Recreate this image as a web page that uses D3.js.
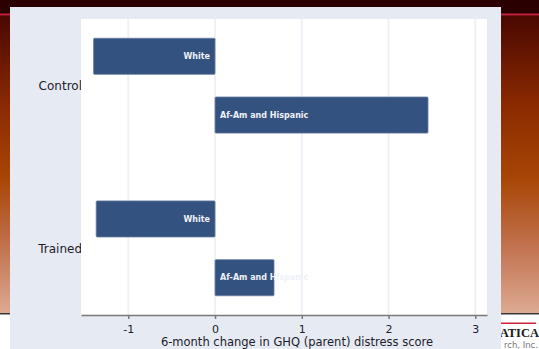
<!DOCTYPE html>
<html>
<head>
<meta charset="utf-8">
<script src="https://cdn.jsdelivr.net/npm/d3@7"></script>
<style>
  html, body { margin: 0; padding: 0; background: #fff; }
  svg { display: block; font-family: "DejaVu Sans", Verdana, sans-serif; }
</style>
</head>
<body>
<svg id="chart" width="539" height="349"></svg>
<script>
// groups, bar categories and the values
const groups = ["Control", "Trained"];
const races = ["White", "Af-Am and Hispanic"];
const controlValues = [-1.40, 2.455];
const trainedValues = [-1.37, 0.68];
const xTicks = [-1, 0, 1, 2, 3];
const xTitle = "6-month change in GHQ (parent) distress score";

const rows = [];
groups.forEach((g, gi) => {
  const vals = gi === 0 ? controlValues : trainedValues;
  races.forEach((r, ri) => rows.push({ group: g, race: r, value: vals[ri] }));
});

const svg = d3.select("#chart");
const W = 539, H = 349;

// --- slide background behind the chart ---
const defs = svg.append("defs");
const grad = defs.append("linearGradient")
  .attr("id", "slideBg")
  .attr("x1", 0).attr("y1", 0).attr("x2", 0).attr("y2", 1);
[[0, "#4a0800"], [0.3, "#8a2a00"], [0.55, "#a84606"], [0.78, "#c27350"], [1, "#dcaa92"]]
  .forEach(([o, c]) => grad.append("stop").attr("offset", o).attr("stop-color", c));

svg.append("rect").attr("width", W).attr("height", 16).attr("fill", "#2a0000");
svg.append("rect").attr("y", 16).attr("width", W).attr("height", 297).attr("fill", "url(#slideBg)");
svg.append("rect").attr("y", 13.5).attr("width", W).attr("height", 2).attr("fill", "#c8203a");
svg.append("rect").attr("y", 313).attr("width", W).attr("height", 1.5).attr("fill", "#3a3a3a");

// logo bits at bottom right (only the part the chart leaves visible)
svg.append("rect").attr("x", 490).attr("y", 322.5).attr("width", 46).attr("height", 1.5).attr("fill", "#d0203a");
svg.append("text")
  .attr("x", 539).attr("y", 337)
  .attr("text-anchor", "end")
  .style("font-family", "'Liberation Serif', serif")
  .style("font-weight", "bold")
  .style("font-size", "12.5px")
  .attr("fill", "#1a1a1a")
  .text("ATICA");
svg.append("text")
  .attr("x", 538).attr("y", 348)
  .attr("text-anchor", "end")
  .style("font-size", "8.5px")
  .attr("fill", "#777")
  .text("rch, Inc.");

// --- chart panel ---
const panel = { left: 10, top: 7, right: 501, bottom: 349 };
const plot = { left: 81, top: 19, right: 487, bottom: 315 };

svg.append("rect")
  .attr("x", panel.left).attr("y", panel.top)
  .attr("width", panel.right - panel.left)
  .attr("height", panel.bottom - panel.top)
  .attr("fill", "#e6eaf3");

const x = d3.scaleLinear().domain([-1.545, 3.135]).range([plot.left, plot.right]);

const yGroup = d3.scaleBand()
  .domain(groups)
  .range([plot.top, plot.bottom])
  .paddingInner(0.2)
  .paddingOuter(0.01);

const yRace = d3.scaleBand()
  .domain(races)
  .range([0, yGroup.bandwidth()])
  .paddingInner(0.385)
  .paddingOuter(0.3);

// group labels (drawn before the plot area so it trims them a little)
svg.append("g")
  .selectAll("text")
  .data(groups)
  .join("text")
  .attr("x", plot.left + 1)
  .attr("y", (d) => yGroup(d) + yGroup.bandwidth() / 2)
  .attr("dy", "0.35em")
  .attr("text-anchor", "end")
  .style("font-size", "12px")
  .attr("fill", "#1c1c2a")
  .text((d) => d);

svg.append("rect")
  .attr("x", plot.left).attr("y", plot.top)
  .attr("width", plot.right - plot.left)
  .attr("height", plot.bottom - plot.top)
  .attr("fill", "#ffffff");

// vertical grid
svg.append("g")
  .selectAll("line")
  .data(xTicks)
  .join("line")
  .attr("x1", (d) => x(d)).attr("x2", (d) => x(d))
  .attr("y1", plot.top).attr("y2", plot.bottom)
  .attr("stroke", "#eef2f8")
  .attr("stroke-width", 2);

// bars
const bars = svg.append("g")
  .selectAll("g")
  .data(rows)
  .join("g")
  .attr("transform", (d) => `translate(0,${yGroup(d.group) + yRace(d.race)})`);

bars.append("rect")
  .attr("x", (d) => x(Math.min(0, d.value)))
  .attr("width", (d) => Math.abs(x(d.value) - x(0)))
  .attr("height", yRace.bandwidth())
  .attr("rx", 1)
  .attr("fill", "#34527f")
  .attr("stroke", "#6a7fa2")
  .attr("stroke-width", 0.8);

bars.append("text")
  .attr("x", (d) => (d.value < 0 ? x(0) - 5 : x(0) + 5))
  .attr("y", yRace.bandwidth() / 2)
  .attr("dy", "0.35em")
  .attr("text-anchor", (d) => (d.value < 0 ? "end" : "start"))
  .style("font-size", "8px")
  .style("font-weight", "bold")
  .attr("fill", "#eef1f7")
  .text((d) => d.race);

// x axis
const axis = svg.append("g")
  .attr("transform", `translate(0,${plot.bottom})`)
  .call(d3.axisBottom(x).tickValues(xTicks).tickSize(4).tickSizeOuter(0).tickPadding(6)
    .tickFormat((d) => String(d)));

axis.select(".domain").attr("stroke", "#7a7a7a").attr("stroke-width", 1.5);
axis.selectAll(".tick line").attr("stroke", "#7a7a7a").attr("stroke-width", 1.5);
axis.selectAll(".tick text")
  .style("font-family", "'DejaVu Sans', Verdana, sans-serif")
  .style("font-size", "11px")
  .attr("fill", "#1c1c2a");

svg.append("text")
  .attr("x", 297).attr("y", 346)
  .attr("text-anchor", "middle")
  .style("font-size", "11.5px")
  .attr("fill", "#1c1c2a")
  .text(xTitle);
</script>
</body>
</html>
